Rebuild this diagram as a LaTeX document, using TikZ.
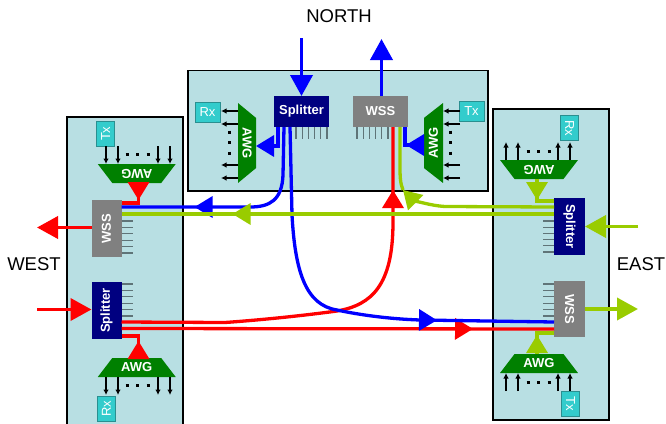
\documentclass[tikz,border=0pt]{standalone}
\usepackage{fontspec}
\setmainfont{Liberation Sans}
\usetikzlibrary{arrows.meta,decorations.markings,shapes.geometric}
\definecolor{boxfill}{HTML}{B8DFE3}
\definecolor{awgfill}{HTML}{008000}
\definecolor{splitfill}{HTML}{000080}
\definecolor{wssfill}{HTML}{808080}
\definecolor{txfill}{HTML}{33CCCC}
\definecolor{txline}{HTML}{2A8F90}
\definecolor{pinline}{HTML}{5F7478}
\definecolor{lime}{HTML}{99CC00}
\tikzset{
    block/.style={inner sep=0pt, outer sep=0pt, text=white, font=\bfseries\fontsize{13}{14}\selectfont},
    sitebox/.style={draw=black, line width=1.5pt, fill=boxfill, inner sep=0pt, outer sep=0pt},
    splitter/.style={block, fill=splitfill, minimum width=#1},
    wss/.style={block, fill=wssfill, minimum width=#1},
    awg/.style={block, fill=awgfill, trapezium, trapezium stretches=true, trapezium angle=45, minimum width=78pt, minimum height=19pt},
    txrx/.style={block, fill=txfill, draw=txline, line width=0.8pt, font=\fontsize{13}{14}\selectfont},
    pin/.style={draw=pinline, line width=1.1pt},
    sig/.style={black, line width=1.3pt, -{Latex[length=5.5pt,width=5.5pt]}},
    dots/.style={black, line width=3pt, dash pattern=on 3pt off 7.5pt},
    route/.style={line width=3.3pt},
    fiber/.style={line width=3.8pt},
    bigtip/.style={-{Triangle[length=21pt,width=22pt]}},
    endtip/.style={-{Triangle[length=18pt,width=21pt]}},
    midtip/.style={postaction={decorate, decoration={markings, mark=at position #1 with {\arrow{Triangle[length=18pt,width=21pt]}}}}},
    dirlabel/.style={font=\fontsize{18.5}{20}\selectfont, inner sep=0pt}
}
\begin{document}
\begin{tikzpicture}[x=1pt, y=-1pt]
    \path[use as bounding box, clip] (0,0) rectangle (666,423);

    % Sites
    \node[sitebox, minimum width=300pt, minimum height=120.5pt] (nbox) at (338,130.75) {};
    \node[sitebox, minimum width=116pt, minimum height=310pt] (wbox) at (125,272) {};
    \node[sitebox, minimum width=116pt, minimum height=311pt] (ebox) at (551,264.5) {};

    % Direction labels
    \node[dirlabel] (north) at (339,16) {NORTH};
    \node[dirlabel] (west) at (34,264) {WEST};
    \node[dirlabel] (east) at (641,264) {EAST};

    % North
    \node[splitter=55pt, minimum height=31pt] (nsplit) at (301.5,111.5) {Splitter};
    \node[wss=55pt, minimum height=31pt] (nwss) at (380.5,111.5) {WSS};
    \node[awg, rotate=-90, minimum width=80pt, minimum height=18pt] (nawgl) at (247,143) {AWG};
    \node[awg, rotate=90, minimum width=80pt, minimum height=19pt] (nawgr) at (433.5,143) {AWG};
    \node[txrx, minimum width=25pt, minimum height=20pt] (nrx) at (207.5,112) {Rx};
    \node[txrx, minimum width=25pt, minimum height=20pt] (ntx) at (471.5,111) {Tx};

    % West
    \node[wss=30pt, minimum height=57pt] (wwss) at (106.5,228.5) {\rotatebox{90}{WSS}};
    \node[splitter=30pt, minimum height=57pt] (wsplit) at (106.5,310.5) {\rotatebox{90}{Splitter}};
    \node[awg, rotate=180] (wawgt) at (136.75,173.5) {AWG};
    \node[awg] (wawgb) at (136.75,367.5) {AWG};
    \node[txrx, minimum width=18pt, minimum height=25pt] (wtx) at (105.75,133.75) {\rotatebox{90}{Tx}};
    \node[txrx, minimum width=18pt, minimum height=25pt] (wrx) at (106.5,409) {\rotatebox{90}{Rx}};

    % East
    \node[splitter=31pt, minimum height=57pt] (esplit) at (569.5,226.5) {\rotatebox{-90}{Splitter}};
    \node[wss=31pt, minimum height=56pt] (ewss) at (569.5,309) {\rotatebox{-90}{WSS}};
    \node[awg, rotate=180] (eawgt) at (539,169.5) {AWG};
    \node[awg] (eawgb) at (539,363.5) {AWG};
    \node[txrx, minimum width=18pt, minimum height=25pt] (erx) at (569.5,128) {\rotatebox{-90}{Rx}};
    \node[txrx, minimum width=18pt, minimum height=25pt] (etx) at (570.5,403.5) {\rotatebox{-90}{Tx}};

    % Free ends of the fibers
    \coordinate (nin) at (301.5,38);
    \coordinate (nout) at (381.5,39);
    \coordinate (win) at (37,309.5);
    \coordinate (wout) at (37,227.5);
    \coordinate (ein) at (638,226.5);
    \coordinate (eout) at (638,309);
    \coordinate (bend) at (403,190);

    % Pins
    \foreach \s in {0,...,5} {
        \draw[pin] ([shift={(22+6.2*\s,0)}]nsplit.south west) -- ++(0,12);
        \draw[pin] ([shift={(4+6.2*\s,0)}]nwss.south west) -- ++(0,12);
        \draw[pin] ([shift={(0,21+6.4*\s)}]wwss.north east) -- ++(11,0);
        \draw[pin] ([shift={(0,2+6.4*\s)}]wsplit.north east) -- ++(11,0);
        \draw[pin] ([shift={(0,23+6.2*\s)}]esplit.north west) -- ++(-11,0);
        \draw[pin] ([shift={(0,3+6.4*\s)}]ewss.north west) -- ++(-11,0);
    }

    % Channel arrows
    \foreach \s in {-32,-19,22,35} {
        \draw[sig] ([shift={(-9,\s)}]nawgl.center) -- ++(-17,0);
        \draw[sig] ([shift={(26.5,\s)}]nawgr.center) -- ++(-17,0);
    }
    \foreach \s in {-30.75,-18.75,21.25,33.25} {
        \draw[sig] ([shift={(\s,-27.5)}]wawgt.center) -- ++(0,18);
        \draw[sig] ([shift={(\s,9.5)}]wawgb.center) -- ++(0,18);
    }
    \foreach \s in {-33,-21,19,31} {
        \draw[sig] ([shift={(\s,-9.5)}]eawgt.center) -- ++(0,-18);
        \draw[sig] ([shift={(\s,27.5)}]eawgb.center) -- ++(0,-18);
    }
    \draw[dots] ([shift={(-18,-12.5)}]nawgl.center) -- ++(0,24);
    \draw[dots] ([shift={(16.5,-12.5)}]nawgr.center) -- ++(0,24);
    \draw[dots] ([shift={(-11.25,-19.5)}]wawgt.center) -- ++(24,0);
    \draw[dots] ([shift={(-11.25,17.5)}]wawgb.center) -- ++(24,0);
    \draw[dots] ([shift={(-12.5,-18.5)}]eawgt.center) -- ++(24,0);
    \draw[dots] ([shift={(-12.5,18.5)}]eawgb.center) -- ++(24,0);

    % Red
    \draw[red, route, midtip=-63pt] ([shift={(0,40)}]wsplit.north east) -- (225,322.5) .. controls (260,320) and (300,316) .. (337,311) .. controls (372,305) and (393,285) .. (393,222) -- ([shift={(12.5,0)}]nwss.south);
    \draw[red, route, midtip=-81pt] ([shift={(0,46.5)}]wsplit.north east) -- ([shift={(0,48)}]ewss.north west);
    \draw[red, route, midtip=17pt] (138.5,183) -- (138.5,203) -- ([shift={(0,3)}]wwss.north east);
    \draw[red, route, midtip=17pt] (138.5,358) -- (138.5,336) -- ([shift={(0,54)}]wsplit.north east);
    \draw[red, fiber, bigtip] (win) -- ([shift={(0,-1)}]wsplit.west);
    \draw[red, fiber, bigtip] ([shift={(0,-1)}]wwss.west) -- (wout);

    % Blue
    \draw[blue, route, endtip] ([shift={(4,0)}]nsplit.south west) -- (278,146) -- (256,146);
    \draw[blue, route, midtip=-73pt] ([shift={(10,0)}]nsplit.south west) -- (283,175) .. controls (282,200) and (270,207) .. (250,207) -- ([shift={(0,7)}]wwss.north east);
    \draw[blue, route, midtip=-117pt] ([shift={(16,0)}]nsplit.south west) -- (292,215) .. controls (295,270) and (305,305) .. (337,310) .. controls (360,315) and (390,319) .. (420,320) -- ([shift={(0,41)}]ewss.north west);
    \draw[blue, route, midtip=18pt] (424,145) -- (405,145) -- ([shift={(24.5,0)}]nwss.south);
    \draw[blue, fiber, bigtip] (nin) -- (nsplit.north);
    \draw[blue, fiber, bigtip] ([shift={(1,0)}]nwss.north) -- (nout);

    % Green
    \draw[lime, route, endtip] ([shift={(0,9)}]esplit.north west) -- (445,206.5) .. controls (428,205.5) and (412,199) .. (bend);
    \draw[lime, route] (bend) .. controls (400,183) and (400,175) .. (400,165) -- ([shift={(19.5,0)}]nwss.south);
    \draw[lime, route, midtip=-111pt] ([shift={(0,16)}]esplit.north west) -- ([shift={(0,14)}]wwss.north east);
    \draw[lime, route, midtip=21pt] (537,179) -- (537,201) -- ([shift={(0,3)}]esplit.north west);
    \draw[lime, route, midtip=19pt] (537,354) -- (537,333) -- ([shift={(0,52)}]ewss.north west);
    \draw[lime, fiber, bigtip] (ein) -- (esplit.east);
    \draw[lime, fiber, bigtip] (ewss.east) -- (eout);
\end{tikzpicture}
\end{document}
